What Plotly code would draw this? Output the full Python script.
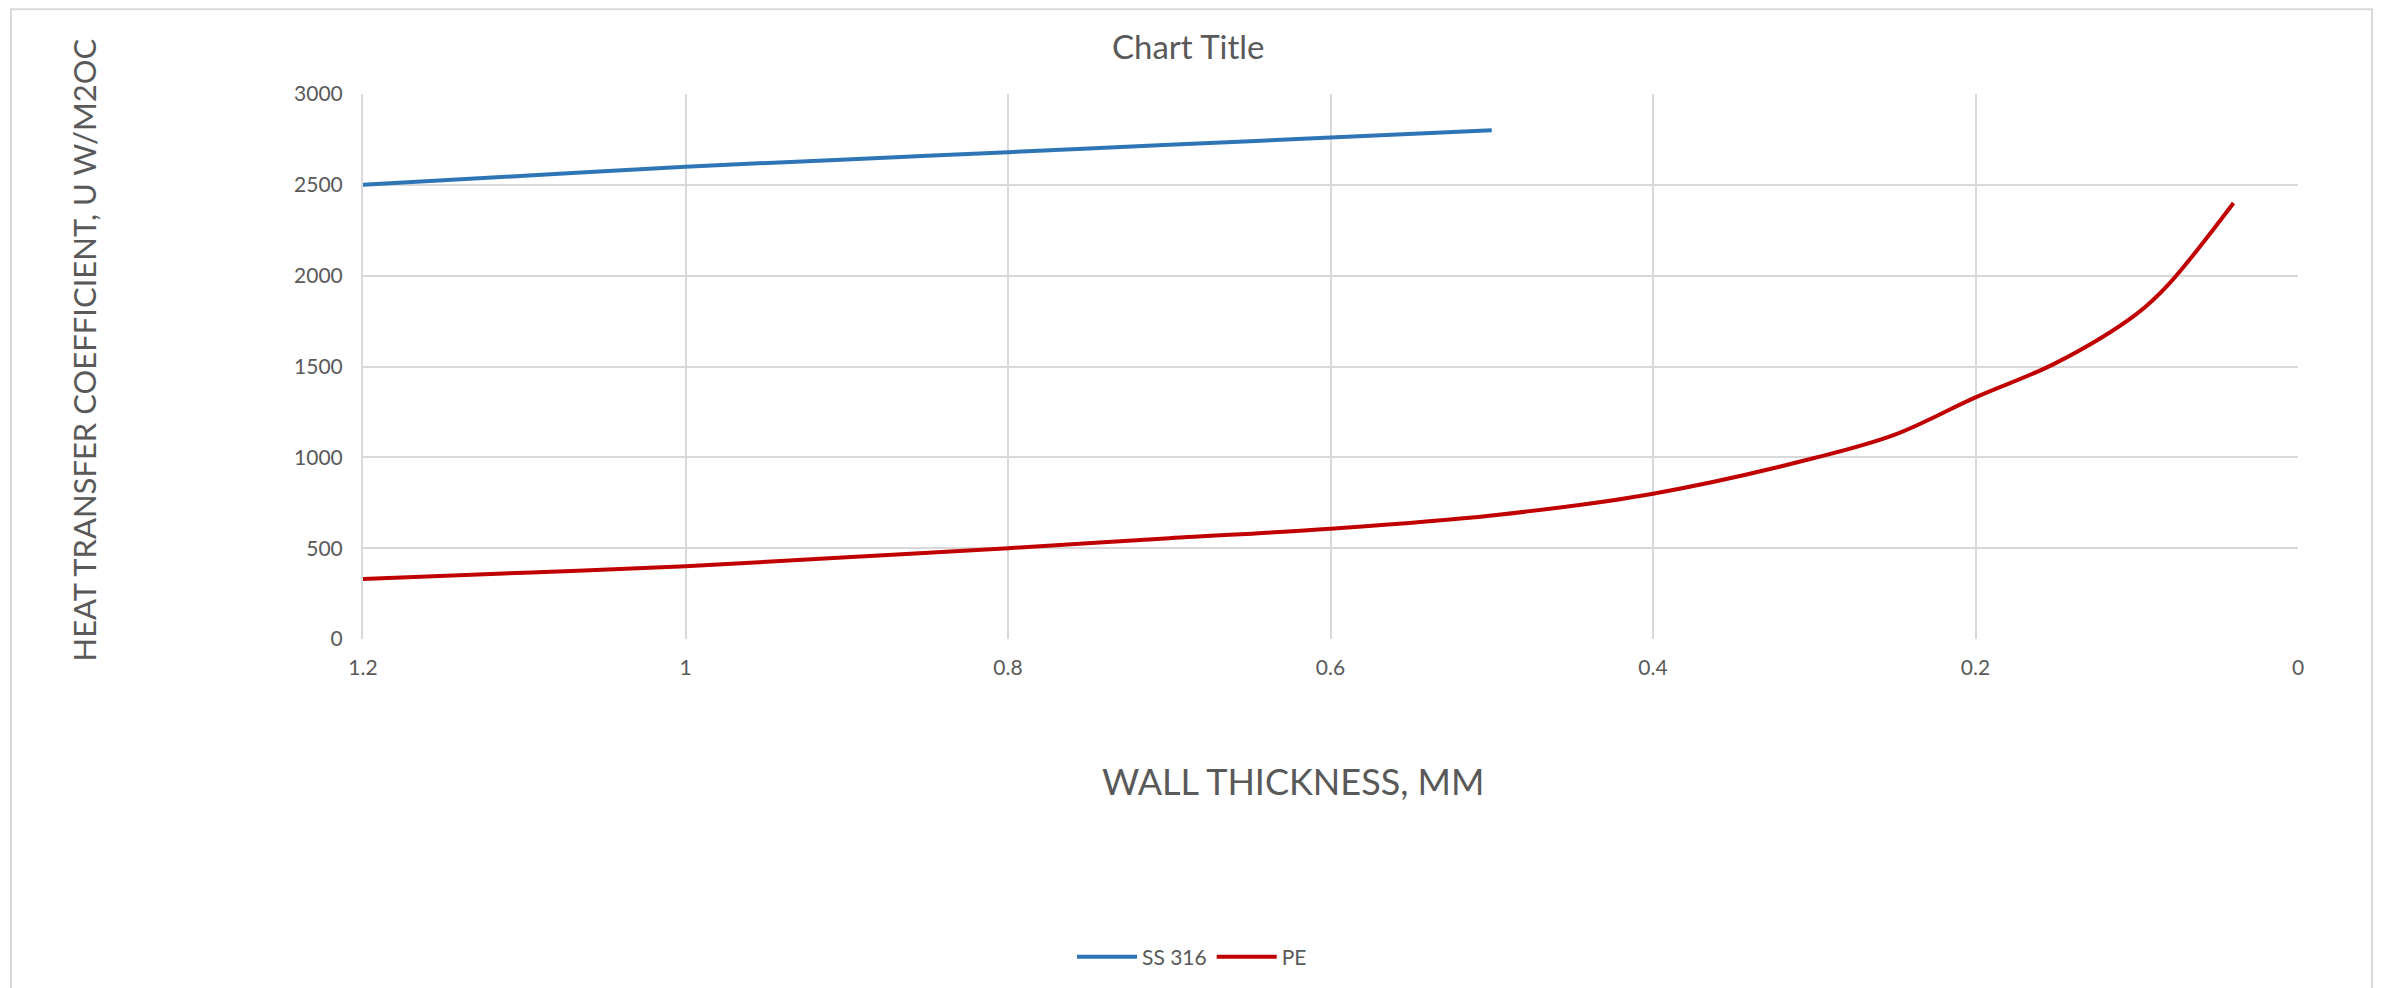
import plotly.graph_objects as go

# Data
thickness_ss = [1.2, 1.1, 1.0, 0.9, 0.8, 0.7, 0.6, 0.5]
u_ss = [2500, 2550, 2600, 2640, 2680, 2720, 2760, 2800]

thickness_pe = [1.2, 1.1, 1.0, 0.9, 0.8, 0.7, 0.6, 0.5, 0.4, 0.3, 0.25, 0.2, 0.15, 0.1, 0.08, 0.04]
u_pe = [330, 365, 400, 450, 500, 555, 607, 680, 800, 996, 1125, 1330, 1520, 1790, 1955, 2400]

x_ticks = [1.2, 1.0, 0.8, 0.6, 0.4, 0.2, 0]
x_tick_labels = ["1.2", "1", "0.8", "0.6", "0.4", "0.2", "0"]
y_ticks = [0, 500, 1000, 1500, 2000, 2500, 3000]

OFF = 8  # page body margin
W, H = 2382 - 2 * OFF, 988 - OFF
L = 363 - OFF
T = 94 - OFF
R = W - (2298 - OFF)
B = H - (640 - OFF)
pw, ph = W - L - R, H - T - B

def px_x(p):
    return (p - OFF - L) / pw

def px_y(p):
    return (H - B - (p - OFF)) / ph

TEXT = "#595959"
FONT = "Lato"

fig = go.Figure()
fig.add_trace(go.Scatter(x=thickness_ss, y=u_ss, mode="lines", name="SS 316",
                         line=dict(color="#2E75B6", width=4, shape="spline")))
fig.add_trace(go.Scatter(x=thickness_pe, y=u_pe, mode="lines", name="PE",
                         line=dict(color="#C00000", width=4, shape="spline")))

fig.update_layout(
    width=W, height=H,
    margin=dict(l=L, r=R, t=T, b=B),
    paper_bgcolor="white", plot_bgcolor="white",
    font=dict(family=FONT, color=TEXT),
    showlegend=True,
    legend=dict(orientation="h", x=px_x(1192), y=px_y(957), xanchor="center", yanchor="middle",
                font=dict(size=21, color=TEXT), itemwidth=60, bgcolor="rgba(0,0,0,0)"),
    xaxis=dict(range=[1.2, 0], tickvals=x_ticks, ticktext=x_tick_labels,
               showgrid=True, gridcolor="#D9D9D9", gridwidth=2,
               zeroline=False, showline=False, ticks="",
               tickfont=dict(size=21, color=TEXT), ticklabelstandoff=14),
    yaxis=dict(range=[0, 3000], tickvals=y_ticks,
               showgrid=True, gridcolor="#D9D9D9", gridwidth=2,
               zeroline=False, showline=True, linecolor="#D9D9D9", linewidth=2,
               ticks="", tickfont=dict(size=21, color=TEXT), ticklabelstandoff=14),
)

fig.add_annotation(text="Chart Title", xref="paper", yref="paper",
                   x=px_x(1188), y=px_y(46), showarrow=False,
                   xanchor="center", yanchor="middle",
                   font=dict(size=33, color=TEXT, family=FONT))
fig.add_annotation(text="WALL THICKNESS, MM", xref="paper", yref="paper",
                   x=px_x(1293), y=px_y(782), showarrow=False,
                   xanchor="center", yanchor="middle",
                   font=dict(size=36, color=TEXT, family=FONT))
fig.add_annotation(text="HEAT TRANSFER COEFFICIENT, U W/M2OC", xref="paper", yref="paper",
                   x=px_x(84), y=px_y(351), showarrow=False, textangle=-90,
                   xanchor="center", yanchor="middle",
                   font=dict(size=31, color=TEXT, family=FONT))

# outer chart border
fig.add_shape(type="rect", xref="paper", yref="paper",
              x0=px_x(11), x1=px_x(2372), y0=px_y(1010), y1=px_y(OFF + 1),
              line=dict(color="#D9D9D9", width=2), fillcolor="rgba(0,0,0,0)", layer="below")

fig.write_html("out.html")
